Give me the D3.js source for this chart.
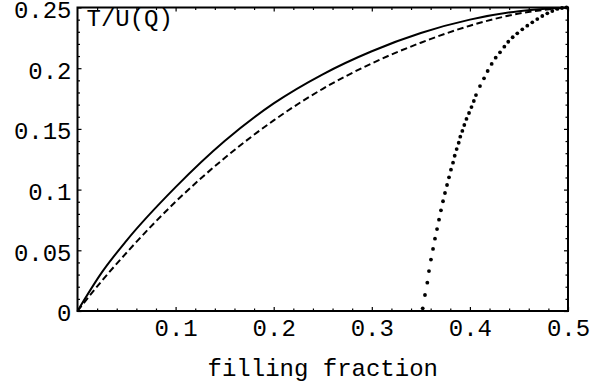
<!DOCTYPE html>
<html>
<head>
<meta charset="utf-8">
<script src="https://cdn.jsdelivr.net/npm/d3@7"></script>
<style>
  body { margin: 0; background: #fff; }
  svg { display: block; }
</style>
</head>
<body>
<div id="chart"></div>
<script>

// Curves (filling fraction -> T/U(Q)).
var fillX   = [0, 0.025, 0.05, 0.1, 0.15, 0.2, 0.25, 0.3, 0.35, 0.4, 0.45, 0.5];
var solidY  = [0, 0.032, 0.058, 0.102, 0.140, 0.171, 0.195, 0.214, 0.229, 0.240, 0.247, 0.25];
var dashedY = [0, 0.025, 0.048, 0.090, 0.126, 0.157, 0.183, 0.204, 0.221, 0.235, 0.245, 0.25];

// Dotted curve, one entry per dot.
var dotX = [0.3519, 0.3542, 0.3566, 0.3583, 0.3603, 0.3624, 0.3644, 0.3665, 0.3685, 0.3705,
            0.3726, 0.3746, 0.3767, 0.3787, 0.3807, 0.3828, 0.3845, 0.3865, 0.3886, 0.3902,
            0.3923, 0.3943, 0.3965, 0.3991, 0.4016, 0.4040, 0.4062, 0.4103, 0.4144, 0.4181,
            0.4222, 0.4263, 0.4307, 0.4351, 0.4391, 0.4436, 0.4483, 0.4534, 0.4585, 0.4636,
            0.4687, 0.4738, 0.4789, 0.4840, 0.4891, 0.4939, 0.4985];
var dotY = [0.0022, 0.0132, 0.0233, 0.0329, 0.0424, 0.0511, 0.0596, 0.0675, 0.0752, 0.0829,
            0.0904, 0.0972, 0.1038, 0.1101, 0.1164, 0.1222, 0.1279, 0.1334, 0.1386, 0.1436,
            0.1483, 0.1532, 0.1582, 0.1631, 0.1680, 0.1730, 0.1779, 0.1853, 0.1917, 0.1977,
            0.2035, 0.2087, 0.2131, 0.2177, 0.2218, 0.2255, 0.2287, 0.2320, 0.2350, 0.2378,
            0.2405, 0.2430, 0.2452, 0.2471, 0.2488, 0.2496, 0.2500];

var xTicks = [0.1, 0.2, 0.3, 0.4, 0.5];
var yTicks = [0, 0.05, 0.1, 0.15, 0.2, 0.25];
var xMinor = [0.02, 0.04, 0.06, 0.08, 0.12, 0.14, 0.16, 0.18, 0.22, 0.24, 0.26, 0.28,
              0.32, 0.34, 0.36, 0.38, 0.42, 0.44, 0.46, 0.48];
var yMinor = [0.01, 0.02, 0.03, 0.04, 0.06, 0.07, 0.08, 0.09, 0.11, 0.12, 0.13, 0.14,
              0.16, 0.17, 0.18, 0.19, 0.21, 0.22, 0.23, 0.24];

var xLabel = 'filling fraction';
var yLabel = 'T/U(Q)';

var config = {
  width: 608,
  height: 388,
  margin: { left: 77.5, right: 40, top: 7.5, bottom: 77 },
  fontFamily: '"Liberation Mono", "Courier New", monospace',
  fontSize: 24
};

function translate(x, y) {
  return 'translate(' + x + ', ' + y + ')';
}

var innerW = config.width - config.margin.left - config.margin.right;
var innerH = config.height - config.margin.top - config.margin.bottom;

var svg = d3.select('#chart').append('svg')
  .attr('width', config.width)
  .attr('height', config.height)
  .append('g')
  .attr('transform', translate(config.margin.left, config.margin.top));

var x = d3.scaleLinear().domain([0, 0.5]).range([0, innerW]);
var y = d3.scaleLinear().domain([0, 0.25]).range([innerH, 0]);

var fmt = function(d) { return d === 0 ? '0' : String(+d.toFixed(2)); };

/**
 * Frame ticks, all pointing inward.
 **/
function addAxis(axis, tx, ty, labels) {
  var g = svg.append('g')
    .attr('transform', translate(tx, ty))
    .call(axis);
  g.select('.domain').remove();
  g.selectAll('.tick line').attr('stroke', '#000').attr('stroke-width', 1.2);
  if (labels) {
    g.selectAll('.tick text')
      .style('font-family', config.fontFamily)
      .style('font-size', config.fontSize + 'px')
      .attr('fill', '#000');
  } else {
    g.selectAll('.tick text').remove();
  }
  return g;
}

// bottom
addAxis(d3.axisBottom(x).tickValues(xTicks).tickSize(-4).tickPadding(8).tickFormat(fmt), 0, innerH, true);
addAxis(d3.axisBottom(x).tickValues(xMinor).tickSize(-2.5).tickFormat(''), 0, innerH, false);
// top
addAxis(d3.axisTop(x).tickValues(xTicks).tickSize(-4).tickFormat(''), 0, 0, false);
addAxis(d3.axisTop(x).tickValues(xMinor).tickSize(-2.5).tickFormat(''), 0, 0, false);
// left
var left = addAxis(d3.axisLeft(y).tickValues(yTicks).tickSize(-4).tickPadding(6).tickFormat(fmt), 0, 0, true);
left.selectAll('.tick text').attr('dy', '0.41em');
addAxis(d3.axisLeft(y).tickValues(yMinor).tickSize(-2.5).tickFormat(''), 0, 0, false);
// right
addAxis(d3.axisRight(y).tickValues(yTicks).tickSize(-4).tickFormat(''), innerW, 0, false);
addAxis(d3.axisRight(y).tickValues(yMinor).tickSize(-2.5).tickFormat(''), innerW, 0, false);

/**
 * Curves.
 **/
var line = d3.line()
  .x(function(d) { return x(d[0]); })
  .y(function(d) { return y(d[1]); })
  .curve(d3.curveMonotoneX);

svg.append('path')
  .datum(fillX.map(function(v, i) { return [v, solidY[i]]; }))
  .attr('d', line)
  .attr('fill', 'none')
  .attr('stroke', '#000')
  .attr('stroke-width', 2);

svg.append('path')
  .datum(fillX.map(function(v, i) { return [v, dashedY[i]]; }))
  .attr('d', line)
  .attr('fill', 'none')
  .attr('stroke', '#000')
  .attr('stroke-width', 2)
  .attr('stroke-dasharray', '6.5, 3.5');

svg.selectAll('.dot')
  .data(dotX.map(function(v, i) { return [v, dotY[i]]; }))
  .enter()
  .append('circle')
    .classed('dot', true)
    .attr('cx', function(d) { return x(d[0]); })
    .attr('cy', function(d) { return y(d[1]); })
    .attr('r', 1.9)
    .attr('fill', '#000');

// Frame.
svg.append('rect')
  .attr('x', 0)
  .attr('y', 0)
  .attr('width', innerW)
  .attr('height', innerH)
  .attr('fill', 'none')
  .attr('stroke', '#000')
  .attr('stroke-width', 2);

// Labels.
svg.append('text')
  .text(yLabel)
  .attr('x', 9)
  .attr('y', 18.5)
  .style('font-family', config.fontFamily)
  .style('font-size', config.fontSize + 'px')
  .attr('fill', '#000');

svg.append('text')
  .text(xLabel)
  .attr('x', innerW / 2)
  .attr('y', innerH + 65)
  .attr('text-anchor', 'middle')
  .style('font-family', config.fontFamily)
  .style('font-size', config.fontSize + 'px')
  .attr('fill', '#000');

</script>
</body>
</html>
